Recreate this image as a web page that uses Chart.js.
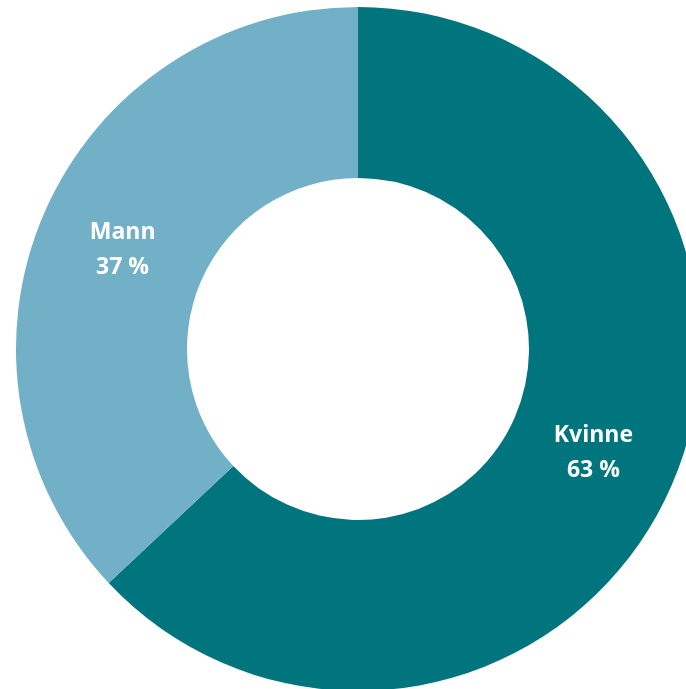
<!DOCTYPE html>
<html lang="no">
<head>
    <meta charset="UTF-8">
    <title>Kjønn</title>
    <script src="https://cdn.jsdelivr.net/npm/chart.js"></script>
    <style>
        html, body {
            margin: 0;
            padding: 0;
            background: #ffffff;
            overflow: hidden;
            width: 686px;
            height: 689px;
        }
        #wrap {
            position: absolute;
            left: 16px;
            top: 7px;
        }
    </style>
</head>
<body>
    <div id="wrap">
        <canvas id="pie" width="684" height="684"></canvas>
    </div>

    <script>
        const labels = ["Kvinne", "Mann"];
        const shares = [63, 37];
        const colors = ["#00757D", "#72B0C8"];

        // writes name and percent in the middle of each slice
        const sliceLabels = {
            id: "sliceLabels",
            afterDatasetsDraw(chart) {
                const ctx = chart.ctx;
                const meta = chart.getDatasetMeta(0);
                ctx.save();
                ctx.fillStyle = "#ffffff";
                ctx.font = "bold 23px 'Open Sans', sans-serif";
                ctx.textAlign = "center";
                ctx.textBaseline = "middle";
                meta.data.forEach((arc, i) => {
                    const p = arc.getCenterPoint();
                    ctx.fillText(labels[i], p.x, p.y - 15);
                    ctx.fillText(shares[i] + " %", p.x, p.y + 20);
                });
                ctx.restore();
            }
        };

        new Chart(document.getElementById("pie"), {
            type: "doughnut",
            data: {
                labels: labels,
                datasets: [{
                    data: shares,
                    backgroundColor: colors,
                    borderWidth: 0
                }]
            },
            options: {
                responsive: false,
                animation: false,
                cutout: "50%",
                layout: { padding: 0 },
                plugins: {
                    legend: { display: false },
                    tooltip: { enabled: false }
                }
            },
            plugins: [sliceLabels]
        });
    </script>
</body>
</html>
